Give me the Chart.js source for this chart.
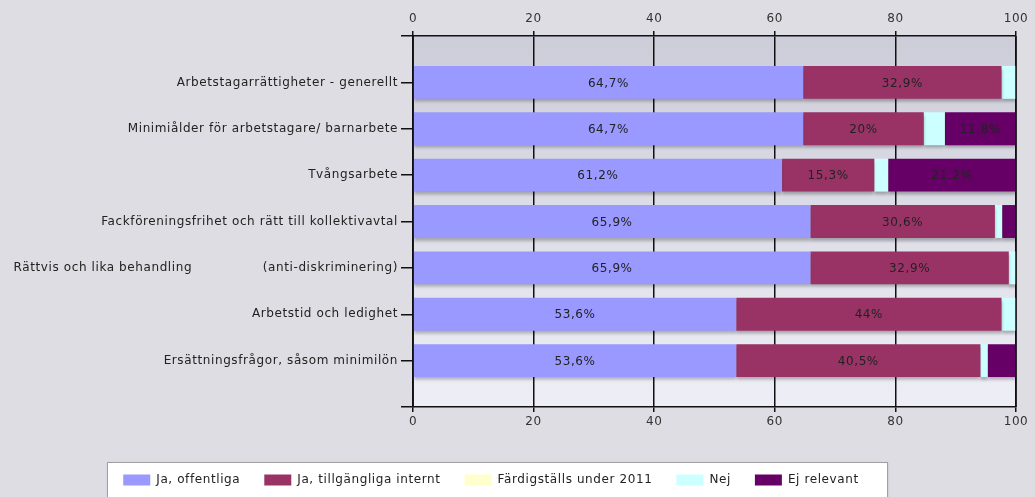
<!DOCTYPE html>
<html>
<head>
<meta charset="utf-8">
<script src="https://cdn.jsdelivr.net/npm/chart.js@4.4.0/dist/chart.umd.min.js"></script>
<style>
  body { margin: 0; background: #dddde3; }
  #wrap { width: 1035px; height: 497px; position: relative; }
</style>
</head>
<body>
<div id="wrap"><canvas id="chart"></canvas></div>
<script>
// categories, top to bottom
const categories = [
  "Arbetstagarrättigheter - generellt",
  "Minimiålder för arbetstagare/ barnarbete",
  "Tvångsarbete",
  "Fackföreningsfrihet och rätt till kollektivavtal",
  "Rättvis och lika behandling                (anti-diskriminering)",
  "Arbetstid och ledighet",
  "Ersättningsfrågor, såsom minimilön"
];

// percent per answer
const jaOffentliga = [64.7, 64.7, 61.2, 65.9, 65.9, 53.6, 53.6];
const jaInternt    = [32.9, 20, 15.3, 30.6, 32.9, 44, 40.5];
const fardig2011   = [0, 0, 0, 0, 0, 0, 0];
const nej          = [2.4, 3.5, 2.3, 1.2, 1.2, 2.4, 1.2];
const ejRelevant   = [0, 11.8, 21.2, 2.4, 0, 0, 4.8];

const xTicks = [0, 20, 40, 60, 80, 100];

// empty slot above and below, like the original axis
const pad = a => [null, ...a, null];
const labels = ['', ...categories, ''];

const FONT = "'DejaVu Sans', Verdana, sans-serif";
const SIZE = 12;
const SPACING = '0.6px';

const bgPlugin = {
  id: 'bg',
  beforeUpdate(chart) {
    chart.ctx.letterSpacing = SPACING;
  },
  afterLayout(chart) {
    // legend sits a bit left of centre in the original
    chart.legend.left -= 17;
    chart.legend.right -= 17;
  },
  beforeDraw(chart) {
    const ctx = chart.ctx, a = chart.chartArea;
    ctx.letterSpacing = SPACING;
    ctx.save();
    const g = ctx.createLinearGradient(0, a.top, 0, a.bottom);
    g.addColorStop(0, '#cdcdd9');
    g.addColorStop(1, '#eeeef6');
    ctx.fillStyle = g;
    ctx.fillRect(a.left, a.top, a.right - a.left, a.bottom - a.top);
    // legend frame
    const lg = chart.legend;
    const cx = (lg.left + lg.right) / 2 + 6;
    ctx.shadowColor = 'rgba(0,0,0,0.15)';
    ctx.shadowOffsetX = 1; ctx.shadowOffsetY = 1; ctx.shadowBlur = 2;
    ctx.fillStyle = '#fff';
    ctx.fillRect(cx - 390, lg.top + 12, 780, 60);
    ctx.shadowColor = 'transparent';
    ctx.strokeStyle = '#a0a0a0';
    ctx.lineWidth = 1;
    ctx.strokeRect(cx - 390 + 0.5, lg.top + 12.5, 780, 60);
    ctx.restore();
  },
  beforeDatasetsDraw(chart) {
    const ctx = chart.ctx;
    ctx.save();
    ctx.shadowColor = 'rgba(0,0,0,0.28)';
    ctx.shadowOffsetX = 0;
    ctx.shadowOffsetY = 3;
    ctx.shadowBlur = 3;
  },
  afterDatasetsDraw(chart) {
    const ctx = chart.ctx, a = chart.chartArea;
    ctx.restore();
    ctx.save();
    // value labels
    ctx.font = SIZE + 'px ' + FONT;
    ctx.fillStyle = '#222';
    ctx.textAlign = 'center';
    ctx.textBaseline = 'middle';
    chart.data.datasets.forEach((ds, i) => {
      chart.getDatasetMeta(i).data.forEach((bar, j) => {
        const v = ds.data[j];
        if (v == null || v < 5) return;
        const p = bar.getProps(['x', 'base', 'y'], true);
        ctx.fillText(String(v).replace('.', ',') + '%', (p.x + p.base) / 2, p.y + 1);
      });
    });
    // frame left/right
    ctx.strokeStyle = '#111';
    ctx.lineWidth = 1.5;
    ctx.beginPath();
    ctx.moveTo(a.left, a.top); ctx.lineTo(a.left, a.bottom);
    ctx.moveTo(a.right, a.top); ctx.lineTo(a.right, a.bottom);
    ctx.stroke();
    ctx.restore();
  }
};

const xAxis = (position, onArea, h, pad) => ({
  type: 'linear',
  position: position,
  stacked: true,
  min: 0,
  max: 100,
  afterBuildTicks: s => { s.ticks = xTicks.map(v => ({ value: v })); },
  afterFit: s => { s.height = h; },
  ticks: { color: '#333', font: { family: FONT, size: SIZE }, padding: pad, autoSkip: false, maxRotation: 0 },
  grid: { color: '#111', lineWidth: 1.5, tickLength: 5, drawOnChartArea: onArea },
  border: { color: '#111', width: 1.5 }
});

new Chart(document.getElementById('chart'), {
  type: 'bar',
  data: {
    labels: labels,
    datasets: [
      { label: 'Ja, offentliga', data: pad(jaOffentliga), backgroundColor: '#9999ff' },
      { label: 'Ja, tillgängliga internt', data: pad(jaInternt), backgroundColor: '#993366' },
      { label: 'Färdigställs under 2011', data: pad(fardig2011), backgroundColor: '#ffffcc' },
      { label: 'Nej', data: pad(nej), backgroundColor: '#ccffff' },
      { label: 'Ej relevant', data: pad(ejRelevant), backgroundColor: '#660066' }
    ]
  },
  options: {
    indexAxis: 'y',
    responsive: true,
    maintainAspectRatio: false,
    animation: false,
    barPercentage: 0.71,
    categoryPercentage: 1,
    layout: { padding: { left: 0, right: 19, top: 0, bottom: 1 } },
    scales: {
      x: xAxis('top', true, 36, 5),
      x2: xAxis('bottom', false, 43, 3),
      y: {
        stacked: true,
        offset: false,
        afterFit: s => { s.width = 413; },
        ticks: { color: '#222', font: { family: FONT, size: SIZE }, padding: 3, autoSkip: false },
        grid: { color: '#111', lineWidth: 1.5, tickLength: 12, drawOnChartArea: false, offset: false },
        border: { color: '#111', width: 1.5 }
      }
    },
    plugins: {
      legend: {
        position: 'bottom',
        labels: {
          boxWidth: 27,
          boxHeight: 11,
          padding: 24,
          color: '#222',
          font: { family: FONT, size: SIZE }
        }
      },
      tooltip: { enabled: false }
    }
  },
  plugins: [bgPlugin]
});
</script>
</body>
</html>
